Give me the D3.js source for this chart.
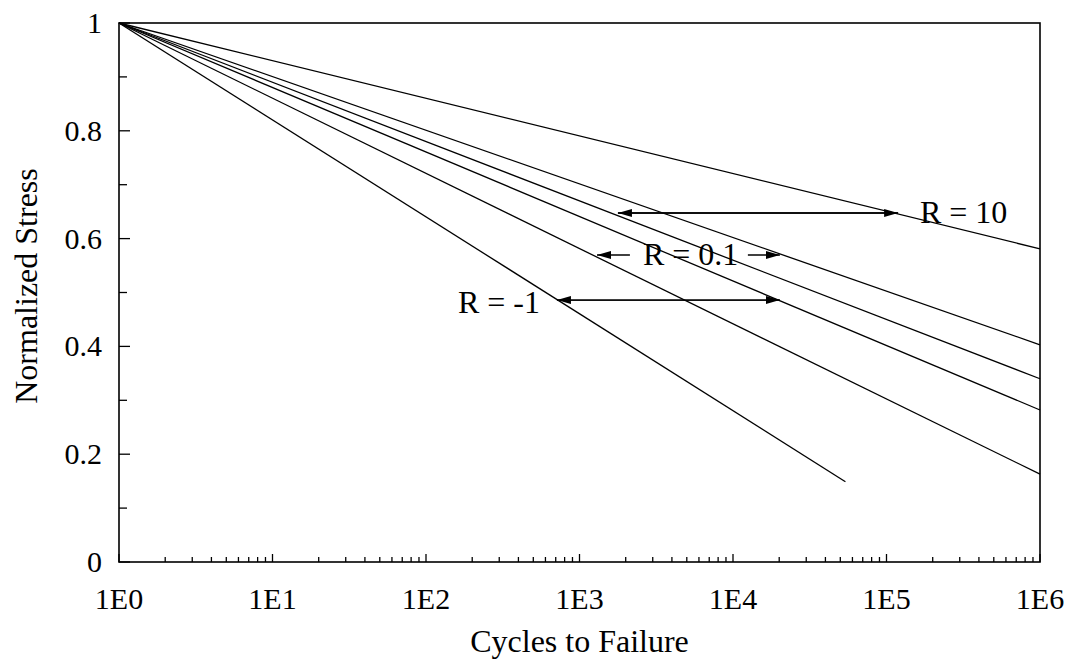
<!DOCTYPE html>
<html>
<head>
<meta charset="utf-8">
<script src="https://d3js.org/d3.v7.min.js"></script>
<style>
  html, body { margin: 0; padding: 0; background: #fff; }
  svg { display: block; }
</style>
</head>
<body>
<svg id="chart" width="1072" height="660"></svg>
<script>
// S-N curves: each one runs from N = 1 at full stress to its end point
const curveStart = [1, 1];
const curveEndCycles = [1e6, 1e6, 1e6, 1e6, 1e6, 5.4e4];
const curveEndStress = [0.581, 0.403, 0.340, 0.282, 0.163, 0.149];

// Arrows marking the R-ratio bands: [fromCycles, toCycles, stress]
const arrowSegments = [
  [1.19e5, 1.78e3, 0.6475],   // R = 10, head on both ends
  [1.78e3, 1.19e5, 0.6475],
  [2.13e3, 1.30e3, 0.5696],   // R = 0.1, left part
  [1.25e4, 2.02e4, 0.5696],   // R = 0.1, right part
  [2.02e4, 7.13e2, 0.486],    // R = -1
  [7.13e2, 2.02e4, 0.486]
];

// Annotation labels: [text, cycles, stress, anchor]
const annotations = [
  ["R = 10", 1.65e5, 0.629, "start"],
  ["R = 0.1", 5.3e3, 0.551, "middle"],
  ["R = -1", 5.53e2, 0.462, "end"]
];

const xTickLabels = ["1E0", "1E1", "1E2", "1E3", "1E4", "1E5", "1E6"];
const yTickValues = [0, 0.2, 0.4, 0.6, 0.8, 1];
const yMinorValues = [0.1, 0.3, 0.5, 0.7, 0.9];

const FONT = "'Liberation Serif', 'DejaVu Serif', serif";
const margin = { left: 119, right: 32, top: 23, bottom: 98 };
const W = 1072, H = 660;
const svg = d3.select("#chart").attr("font-family", FONT);

const x = d3.scaleLog().domain([1, 1e6]).range([margin.left, W - margin.right]);
const y = d3.scaleLinear().domain([0, 1]).range([H - margin.bottom, margin.top]);

// arrowhead marker
svg.append("defs").append("marker")
  .attr("id", "head")
  .attr("viewBox", "0 0 14 8")
  .attr("refX", 14).attr("refY", 4)
  .attr("markerWidth", 14).attr("markerHeight", 8)
  .attr("markerUnits", "userSpaceOnUse")
  .attr("orient", "auto")
  .append("path").attr("d", "M0,0 L14,4 L0,8 Z").attr("fill", "#000");

// curves
const line = d3.line().x(d => x(d[0])).y(d => y(d[1]));
curveEndCycles.forEach((c, i) => {
  svg.append("path")
    .attr("d", line([curveStart, [c, curveEndStress[i]]]))
    .attr("fill", "none").attr("stroke", "#000").attr("stroke-width", 1.3);
});

// arrows
arrowSegments.forEach(a => {
  svg.append("line")
    .attr("x1", x(a[0])).attr("x2", x(a[1]))
    .attr("y1", y(a[2])).attr("y2", y(a[2]))
    .attr("stroke", "#000").attr("stroke-width", 1.3)
    .attr("marker-end", "url(#head)");
});

// annotation labels
annotations.forEach(a => {
  svg.append("text")
    .attr("x", x(a[1])).attr("y", y(a[2]))
    .attr("text-anchor", a[3])
    .attr("font-family", FONT).attr("font-size", 32)
    .text(a[0]);
});

// x axis: major decades plus minor ticks 2..9
const xMajor = d3.range(0, 7).map(k => Math.pow(10, k));
const xMinor = [];
for (let k = 0; k < 6; k++) for (let m = 2; m <= 9; m++) xMinor.push(m * Math.pow(10, k));

const gx = svg.append("g").attr("transform", `translate(0,${y(0)})`);
gx.selectAll(".maj").data(xMajor).join("line")
  .attr("x1", d => x(d)).attr("x2", d => x(d)).attr("y1", 0).attr("y2", -8)
  .attr("stroke", "#000").attr("stroke-width", 1.3);
gx.selectAll(".min").data(xMinor).join("line")
  .attr("x1", d => x(d)).attr("x2", d => x(d)).attr("y1", 0).attr("y2", -5)
  .attr("stroke", "#000").attr("stroke-width", 1.3);
gx.selectAll("text").data(xMajor).join("text")
  .attr("x", d => x(d)).attr("y", 47)
  .attr("text-anchor", "middle")
  .attr("font-family", FONT).attr("font-size", 30)
  .text((d, i) => xTickLabels[i]);

// y axis
const gy = svg.append("g").attr("transform", `translate(${x(1)},0)`);
gy.selectAll(".maj").data(yTickValues).join("line")
  .attr("x1", 0).attr("x2", 11).attr("y1", d => y(d)).attr("y2", d => y(d))
  .attr("stroke", "#000").attr("stroke-width", 1.3);
gy.selectAll(".min").data(yMinorValues).join("line")
  .attr("x1", 0).attr("x2", 8).attr("y1", d => y(d)).attr("y2", d => y(d))
  .attr("stroke", "#000").attr("stroke-width", 1.3);
gy.selectAll("text").data(yTickValues).join("text")
  .attr("x", -17).attr("y", d => y(d)).attr("dy", "0.33em")
  .attr("text-anchor", "end")
  .attr("font-family", FONT).attr("font-size", 30)
  .text(d => d3.format("~g")(d));

// frame
svg.append("rect")
  .attr("x", x(1)).attr("y", y(1))
  .attr("width", x(1e6) - x(1)).attr("height", y(0) - y(1))
  .attr("fill", "none").attr("stroke", "#000").attr("stroke-width", 1.6);

// axis titles
svg.append("text")
  .attr("x", (x(1) + x(1e6)) / 2).attr("y", 652)
  .attr("text-anchor", "middle")
  .attr("font-family", FONT).attr("font-size", 32)
  .text("Cycles to Failure");
svg.append("text")
  .attr("transform", "translate(37,286) rotate(-90)")
  .attr("text-anchor", "middle")
  .attr("font-family", FONT).attr("font-size", 32)
  .text("Normalized Stress");
</script>
</body>
</html>
